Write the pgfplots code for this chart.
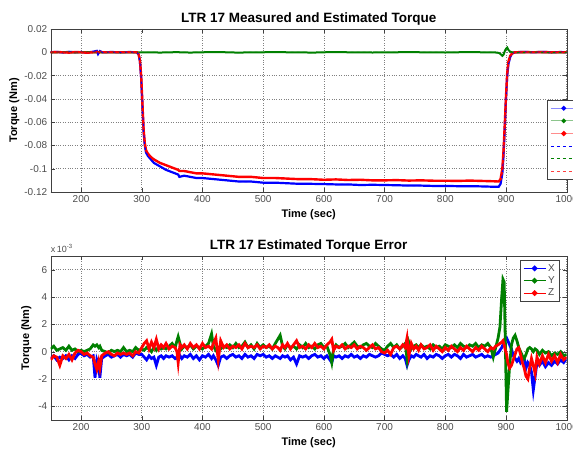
\documentclass[border=0pt]{standalone}
\usepackage{fontspec}
\setmainfont{Liberation Sans}
\usepackage{pgfplots}
\pgfplotsset{compat=1.18}
\usepackage{pgfplotstable}
\definecolor{mblue}{RGB}{0,0,255}
\definecolor{mgreen}{RGB}{0,128,0}
\definecolor{mred}{RGB}{255,0,0}

\pgfplotsset{
  matlab/.style={
    scale only axis, width=516pt,
    xmin=150, xmax=1000,
    xtick={200,300,400,500,600,700,800,900,1000},
    xticklabel style={/pgf/number format/1000 sep={}},
    grid=major, grid style={dotted, black!50, line width=0.6pt},
    axis line style={black!75},
    tick style={black!75}, tick align=inside, major tick length=4pt,
    ticklabel style={font=\fontsize{10}{12}\selectfont, text=black!70},
    label style={font=\bfseries\fontsize{11}{13}\selectfont},
    title style={font=\bfseries\fontsize{13.5}{15}\selectfont, at={(rel axis cs:0.5,1)}, anchor=south, yshift=-6pt},
    /pgf/number format/assume math mode=true,
    xlabel={Time (sec)}, ylabel={Torque (Nm)},
  },
  measleg/.style={legend image code/.code={
    \draw[#1,line width=0.8pt,opacity=0.45] (0pt,0pt) -- (26pt,0pt);
    \fill[#1] (13pt,0pt) circle (1.1pt);}},
  estleg/.style={legend image code/.code={
    \draw[#1,dashed,line width=1pt] (0pt,0pt) -- (26pt,0pt);}},
  errleg/.style={legend image code/.code={
    \draw[#1,line width=0.8pt] (0pt,0pt) -- (22pt,0pt);
    \fill[#1] (11pt,0pt) circle (1.1pt);}},
}

\pgfplotstableread{
t x y z
150 0 0 0
160 0.0003 0 0.0002
170 -0.0002 0.0002 0
180 0.0004 0 -0.0003
190 0 -0.0002 0.0002
200 0.0002 0 0
210 -0.0003 0.0002 -0.0004
220 0.0005 0 0
226 0.0012 0 0.0003
228 -0.0015 0.0002 -0.0005
231 0.0010 0 0.0003
235 0 0 0
250 0.0002 0 0
265 0 -0.0002 0
280 0.0002 0 0
292 0 0 0
295 -0.002 0 -0.002
297 -0.008 0 -0.007
299 -0.022 0 -0.02
301 -0.045 0 -0.043
303 -0.068 0 -0.066
305 -0.08 0 -0.078
307 -0.086 0 -0.084
310 -0.089 0 -0.087
315 -0.092 0 -0.090
320 -0.095 0 -0.092
330 -0.098 -0.0003 -0.095
340 -0.101 0 -0.097
350 -0.103 0 -0.099
360 -0.105 0.0002 -0.101
362 -0.107 0 -0.102
370 -0.106 0 -0.102
380 -0.107 -0.0003 -0.103
390 -0.108 0 -0.104
400 -0.108 0 -0.104
420 -0.109 0.0002 -0.105
440 -0.110 0 -0.106
460 -0.111 -0.0003 -0.107
480 -0.111 0 -0.107
500 -0.112 0 -0.108
520 -0.112 0.0002 -0.108
540 -0.1125 0 -0.1085
560 -0.113 0 -0.109
580 -0.113 -0.0003 -0.109
600 -0.1132 0 -0.1095
620 -0.1135 0.0002 -0.1092
640 -0.1135 0 -0.1097
660 -0.114 0 -0.1095
680 -0.1138 -0.0002 -0.110
700 -0.114 0 -0.110
720 -0.1142 0 -0.1098
740 -0.1145 0.0002 -0.1102
760 -0.1145 0 -0.110
780 -0.1148 0 -0.1103
800 -0.1148 -0.0002 -0.1103
820 -0.115 0 -0.1105
840 -0.115 0.0002 -0.1102
860 -0.1152 0 -0.1105
880 -0.1155 0 -0.1108
888 -0.1155 -0.0005 -0.111
891 -0.113 -0.0015 -0.109
894 -0.104 -0.003 -0.100
896 -0.088 -0.002 -0.084
898 -0.065 0.001 -0.062
900 -0.04 0.003 -0.038
902 -0.02 0.004 -0.018
904 -0.01 0.002 -0.008
907 -0.004 0.0005 -0.003
910 -0.001 0 -0.001
915 0 0 0
930 0.0003 0 0.0002
945 0 0.0002 0
960 0.0003 0 0.0002
975 0 -0.0002 0
990 0.0002 0 0
1000 0 0 0
}\topdata

\pgfplotstableread{
t x y z
150 -0.5 0.2 -0.6
155 -0.3 0.4 -0.3
160 -0.6 0.1 -0.4
165 -0.4 0.2 -1.0
170 -0.5 0.3 -0.3
175 -0.3 0.1 -0.5
180 -0.6 0.4 -0.2
185 -0.3 0.1 -0.6
190 -0.5 0.2 -0.1
195 -0.2 0.0 0.1
200 -0.1 0.1 0.0
205 -0.3 0.0 -0.2
210 -0.2 0.1 -0.1
215 -0.4 0.2 -0.3
220 -0.3 0.5 -0.4
223 -1.9 0.4 -0.9
226 -0.6 0.5 -1.3
229 -1.0 0.3 -0.7
231 -1.9 0.4 -1.2
234 -0.5 0.1 -0.3
240 -0.3 0.0 -0.1
245 -0.2 -0.1 0.0
250 -0.4 0.1 -0.2
255 -0.3 0.0 -0.3
260 -0.2 0.1 -0.1
265 -0.4 0.0 -0.2
270 -0.2 0.3 -0.1
275 -0.3 0.0 -0.2
280 -0.2 0.1 -0.1
285 -0.4 0.0 -0.3
290 -0.1 0.3 0.0
295 -0.2 0.1 -0.1
300 -0.2 0.2 0.3
304 -0.4 0.1 0.6
308 -0.6 0.3 0.8
312 -0.3 0.2 0.2
316 -0.5 0.0 0.7
320 -0.4 0.3 0.3
324 -1.0 0.1 0.9
328 -0.4 0.4 0.2
332 -0.3 0.2 0.5
336 -0.5 0.3 0.3
340 -0.3 0.2 0.6
345 -0.4 0.4 0.2
350 -0.3 0.6 0.4
355 -0.5 0.3 0.3
358 -0.4 0.8 0.0
360 -0.6 1.1 -0.8
363 -0.3 0.6 0.5
366 -0.5 0.2 0.3
370 -0.3 0.4 0.5
375 -0.4 0.3 0.2
380 -0.2 0.5 0.6
385 -0.5 0.2 0.3
390 -0.3 0.4 0.5
395 -0.6 0.3 0.2
400 -0.3 0.2 0.6
405 -0.4 0.4 0.3
410 -0.2 0.6 0.4
415 -0.5 1.3 0.2
418 -0.3 0.4 0.6
422 -0.6 0.1 1.0
426 -1.0 0.3 -0.6
430 -0.4 0.2 0.8
435 -0.3 0.4 0.3
440 -0.5 0.3 0.5
445 -0.3 0.5 0.2
450 -0.2 0.3 0.4
455 -0.4 0.6 0.3
460 -0.3 0.3 0.5
465 -0.5 0.4 0.2
470 -0.2 0.7 0.6
475 -0.4 0.3 0.3
480 -0.3 0.5 0.4
485 -0.5 0.2 0.3
490 -0.2 0.6 0.5
495 -0.3 0.3 0.2
500 -0.2 0.5 0.4
505 -0.4 0.3 0.3
510 -0.3 0.4 0.5
515 -0.5 0.2 0.2
520 -0.3 0.6 0.4
524 -0.4 0.9 0.3
528 -0.5 1.2 0.1
532 -0.3 0.4 0.5
536 -0.4 0.2 0.3
540 -0.3 0.5 0.6
545 -0.6 0.3 0.2
550 -0.4 0.4 0.5
555 -0.9 0.2 0.8
560 -0.3 0.5 0.3
565 -0.4 0.3 0.4
570 -0.3 0.6 0.2
575 -0.5 0.3 0.5
580 -0.3 0.4 0.3
585 -0.2 0.2 0.6
590 -0.4 0.5 0.3
595 -0.3 0.6 0.4
600 -0.5 0.3 0.2
605 -0.3 0.4 0.5
610 -0.6 -0.2 0.7
613 -0.8 -0.8 0.9
616 -0.3 0.2 0.1
620 -0.4 0.5 0.4
625 -0.3 0.3 0.3
630 -0.5 0.4 0.5
635 -0.3 0.6 0.2
640 -0.4 0.3 0.4
645 -0.2 0.5 0.3
650 -0.4 0.7 0.5
655 -0.3 0.4 0.2
660 -0.5 0.3 0.4
665 -0.3 0.5 0.3
670 -0.4 0.6 0.1
675 -0.2 0.4 0.3
680 -0.3 0.3 0.5
685 -0.4 0.6 0.2
690 -0.3 0.4 0.3
695 -0.1 0.2 0.0
700 -0.2 0.1 -0.1
705 -0.3 0.4 0.1
710 -0.2 0.6 -0.2
715 -0.4 0.3 0.3
720 -0.2 0.5 0.4
725 -0.5 0.2 0.2
730 -0.3 0.4 0.5
734 -0.5 0.6 0.3
737 -1.0 -0.5 1.0
740 -0.6 0.7 -0.3
744 -0.3 0.2 0.6
748 -0.4 0.4 0.2
752 -0.2 0.5 0.4
756 -0.3 0.3 0.1
760 -0.4 0.5 0.5
765 -0.2 0.3 0.2
770 -0.5 0.4 0.3
775 -0.3 0.2 0.5
780 -0.4 0.5 0.1
785 -0.2 0.3 0.4
790 -0.3 0.4 0.2
795 -0.5 0.2 0.0
800 -0.3 0.5 0.3
805 -0.2 0.4 0.1
810 -0.4 0.3 0.4
815 -0.2 0.5 0.2
820 -0.3 0.3 0.0
825 -0.5 0.6 0.3
830 -0.2 0.4 0.1
835 -0.4 0.3 0.4
840 -0.3 0.5 0.2
845 -0.2 0.4 0.0
850 -0.4 0.6 0.3
855 -0.3 0.3 0.1
860 -0.2 0.5 0.4
865 -0.4 0.4 0.2
870 -0.3 0.6 0.0
875 -0.4 0.3 0.3
879 -0.3 -0.4 0.2
883 -0.2 0.3 0.4
887 -0.1 1.0 0.5
890 0.1 1.8 0.6
893 0.3 4.0 0.7
895 0.5 5.3 0.8
897 0.7 5.1 0.5
899 0.9 0.5 0.1
901 1.0 -4.4 -0.2
903 0.8 -3.0 -0.8
906 0.5 -1.0 -1.2
909 0.2 0.5 -1.0
912 -0.3 1.0 -0.6
915 -0.5 1.2 -0.2
918 -0.7 0.8 0.2
921 -0.5 0.3 0.3
924 -0.8 0.0 -0.2
927 -0.6 -0.3 -0.8
930 -0.5 -0.5 -1.2
933 -1.2 -0.2 -1.8
936 -0.8 0.2 -2.0
939 -1.0 0.3 -1.2
942 -1.5 0.2 -0.5
945 -2.8 0.0 -1.0
948 -1.8 0.2 -1.6
951 -0.8 0.1 -0.4
955 -1.0 -0.2 -0.9
960 -0.7 0.1 -0.3
965 -1.1 -0.1 -0.8
970 -0.8 0.0 -0.2
975 -1.0 -0.3 -0.7
980 -0.7 -0.1 -0.3
985 -0.9 -0.2 -0.8
990 -0.6 0.0 -0.2
995 -0.8 -0.3 -0.6
1000 -0.5 -0.2 -0.4
}\errdata

\begin{document}
\begin{tikzpicture}
\useasboundingbox (0,0) rectangle (573pt,449pt);

% measured and estimated torque
\begin{axis}[matlab, height=163pt,
  at={(50.7pt,257pt)}, anchor=south west,
  title={LTR 17 Measured and Estimated Torque},
  ylabel style={xshift=0pt, yshift=-2pt},
  ymin=-0.12, ymax=0.02,
  ytick={-0.12,-0.1,-0.08,-0.06,-0.04,-0.02,0,0.02},
  scaled y ticks=false,
  yticklabel style={/pgf/number format/fixed, /pgf/number format/precision=2},
  legend style={at={(rel axis cs:0.962,0.564)}, anchor=north west,
    draw=black!75, fill=white, font=\fontsize{9}{11}\selectfont, row sep=0.6pt},
]
  \addplot[mblue, line width=2.2pt, measleg=mblue] table[x=t,y=x]{\topdata};
  \addplot[mgreen, line width=2pt, measleg=mgreen] table[x=t,y=y]{\topdata};
  \addplot[mred, line width=2.4pt, measleg=mred] table[x=t,y=z]{\topdata};
  \addplot[mblue, dashed, line width=1pt, estleg=mblue] table[x=t,y=x]{\topdata};
  \addplot[mgreen, dashed, line width=1pt, estleg=mgreen] table[x=t,y=y]{\topdata};
  \addplot[mred, dashed, line width=1pt, estleg=mred!75] table[x=t,y=z]{\topdata};
  \legend{\phantom{Measured X},\phantom{Measured Y},\phantom{Measured Z},\phantom{Estimated X},\phantom{Estimated Y},\phantom{Estimated Z}}
\end{axis}

% estimation error
\begin{axis}[matlab, height=164pt, name=err,
  at={(50.7pt,29pt)}, anchor=south west,
  title={LTR 17 Estimated Torque Error},
  ymin=-5, ymax=7,
  ytick={-4,-2,0,2,4,6},
  legend style={at={(rel axis cs:0.9095,0.976)}, anchor=north west,
    draw=black!75, fill=white, font=\fontsize{10}{11}\selectfont, text=black!70,
    row sep=0pt, cells={anchor=west}},
]
  \addplot[mblue, line width=2.8pt, errleg=mblue] table[x=t,y=x]{\errdata};
  \addplot[mgreen, line width=2.8pt, errleg=mgreen] table[x=t,y=y]{\errdata};
  \addplot[mred, line width=2.8pt, errleg=mred] table[x=t,y=z]{\errdata};
  \legend{X,Y,Z}
\end{axis}
\node[anchor=south west, inner sep=0pt, font=\fontsize{9}{10}\selectfont, text=black!70]
  at ([yshift=3pt]err.north west) {x\,10\textsuperscript{-3}};
\end{tikzpicture}
\end{document}
